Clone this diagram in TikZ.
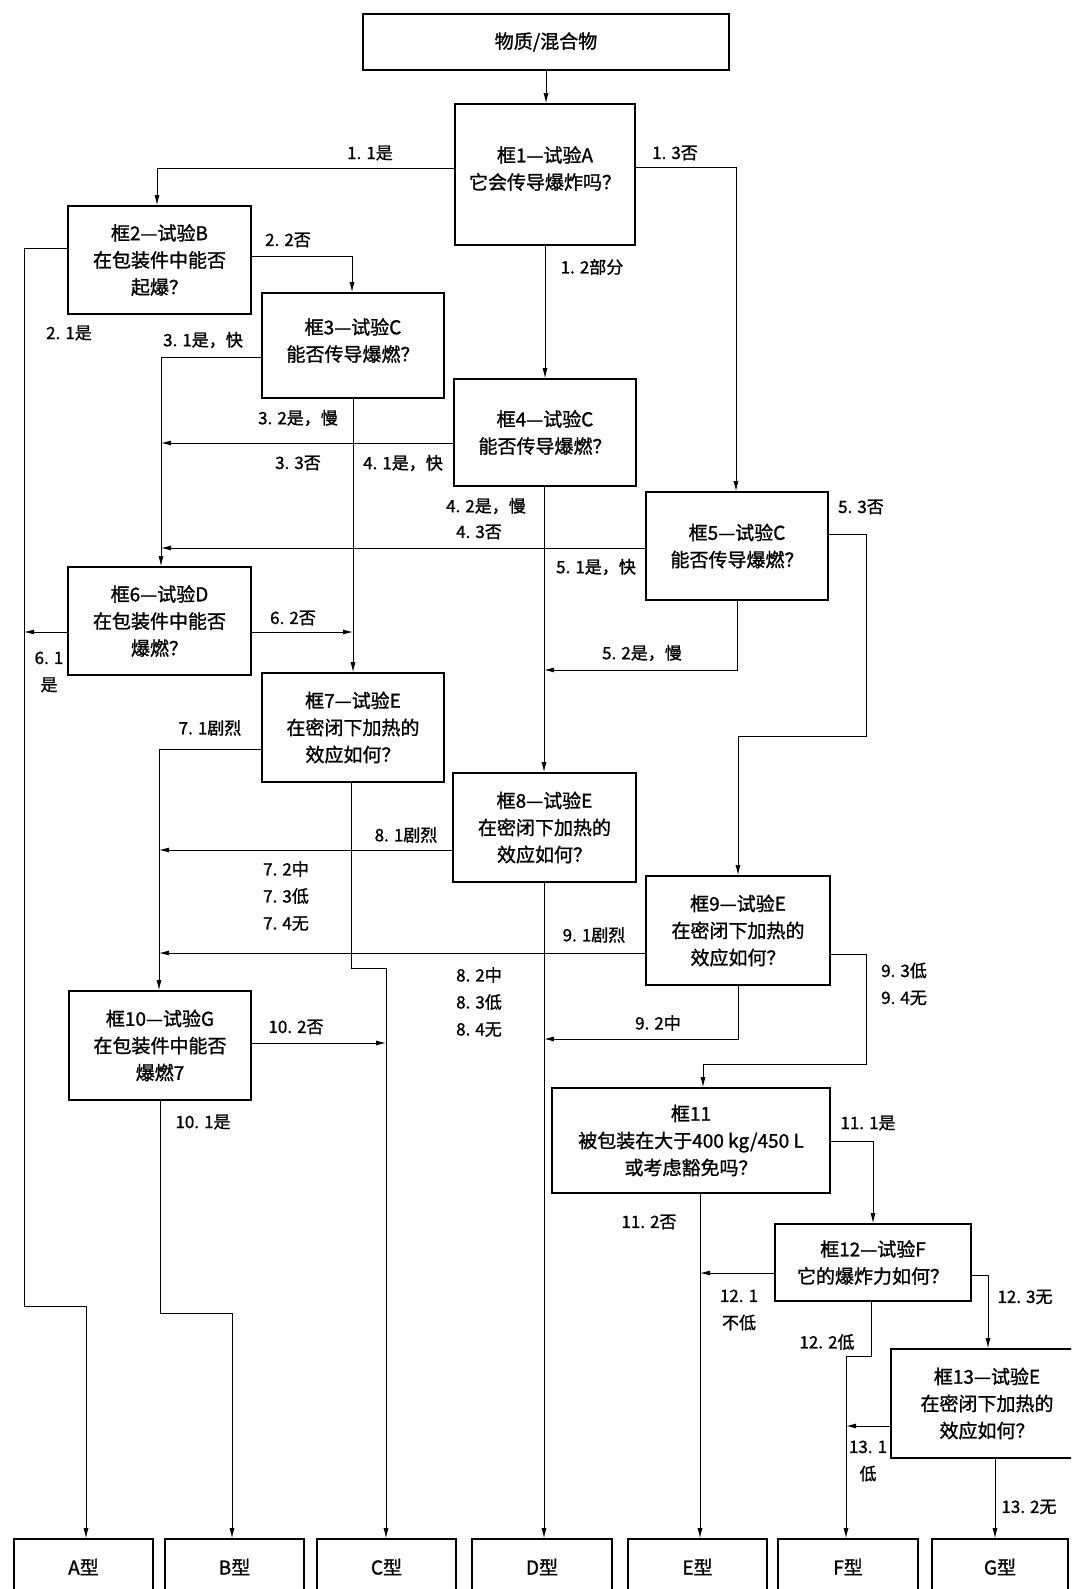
\documentclass[tikz,border=0pt]{standalone}
\usepackage{fontspec}
\setmainfont{Noto Sans CJK SC}[FakeBold=1.2]
\usetikzlibrary{arrows.meta}
\begin{document}
\begin{tikzpicture}[x=1pt,y=-1pt,
  box/.style={draw,line width=1.6pt,align=center,inner sep=0pt,font=\fontsize{19}{27}\selectfont},
  txt/.style={align=center,inner sep=0pt,font=\fontsize{19}{27}\selectfont},
  lab/.style={inner sep=0pt,align=left,font=\fontsize{17}{27}\selectfont},
  ln/.style={line width=0.9pt},
  arr/.style={ln,-{Latex[length=10pt,width=5pt]}}]
\useasboundingbox (0,0) rectangle (1071,1589);
\clip (0,0) rectangle (1071,1589);
\fill[white] (0,0) rectangle (1071,1589);

% ---------- boxes ----------
\node[box,minimum width=366pt,minimum height=56pt] (top) at (546,42) {物质/混合物};
\node[box,minimum width=180pt,minimum height=141pt] (b1) at (545,174.5) {};
\node[txt] (t1) at (545,168.5) {框1—试验A\\它会传导爆炸吗？};
\node[box,minimum width=183pt,minimum height=108pt] (b2) at (159.5,260) {框2—试验B\\在包装件中能否\\起爆？};
\node[box,minimum width=182pt,minimum height=105pt] (b3) at (353,345.5) {};
\node[txt] (t3) at (353,340.5) {框3—试验C\\能否传导爆燃？};
\node[box,minimum width=182pt,minimum height=107pt] (b4) at (545,432.5) {框4—试验C\\能否传导爆燃？};
\node[box,minimum width=182pt,minimum height=108pt] (b5) at (737,546) {框5—试验C\\能否传导爆燃？};
\node[box,minimum width=183pt,minimum height=108pt] (b6) at (159.5,621) {框6—试验D\\在包装件中能否\\爆燃？};
\node[box,minimum width=182pt,minimum height=109pt] (b7) at (353,727.5) {框7—试验E\\在密闭下加热的\\效应如何？};
\node[box,minimum width=183pt,minimum height=109pt] (b8) at (544.5,827.5) {框8—试验E\\在密闭下加热的\\效应如何？};
\node[box,minimum width=184pt,minimum height=109pt] (b9) at (738,930.5) {框9—试验E\\在密闭下加热的\\效应如何？};
\node[box,minimum width=182pt,minimum height=109pt] (b10) at (160,1045.5) {框10—试验G\\在包装件中能否\\爆燃7};
\node[box,minimum width=278pt,minimum height=105pt] (b11) at (691,1140.5) {框11\\被包装在大于400 kg/450 L\\或考虑豁免吗？};
\node[box,minimum width=196pt,minimum height=77pt] (b12) at (873,1262.5) {框12—试验F\\它的爆炸力如何？};
\node[box,minimum width=192pt,minimum height=109pt] (b13) at (987,1403.5) {框13—试验E\\在密闭下加热的\\效应如何？};

\node[box,minimum width=139pt,minimum height=56pt] (A) at (83.5,1567) {A型};
\node[box,minimum width=139pt,minimum height=56pt] (B) at (234.5,1567) {B型};
\node[box,minimum width=139pt,minimum height=56pt] (C) at (386.5,1567) {C型};
\node[box,minimum width=140pt,minimum height=56pt] (D) at (542,1567) {D型};
\node[box,minimum width=139pt,minimum height=56pt] (E) at (697.5,1567) {E型};
\node[box,minimum width=140pt,minimum height=56pt] (F) at (848,1567) {F型};
\node[box,minimum width=136pt,minimum height=56pt] (G) at (1000,1567) {G型};

% ---------- junction coordinates ----------
\coordinate (k11) at (157,168);
\coordinate (k13) at (736,167);
\coordinate (k22) at (352,256);
\coordinate (k21a) at (24,248);
\coordinate (k21b) at (24,1306);
\coordinate (k21c) at (86,1306);
\coordinate (k31) at (161,357);
\coordinate (j41) at (161,443);
\coordinate (j43) at (161,548);
\coordinate (j52) at (544,670);
\coordinate (k53a) at (866,534);
\coordinate (k53b) at (866,736);
\coordinate (k53c) at (738,736);
\coordinate (j61) at (24,632);
\coordinate (j62) at (353,632);
\coordinate (k71) at (159,749);
\coordinate (k72a) at (351,968);
\coordinate (k72b) at (386,968);
\coordinate (j81) at (159,850);
\coordinate (j91) at (159,953);
\coordinate (j92) at (544,1039);
\coordinate (k93a) at (866,954);
\coordinate (k93b) at (866,1064);
\coordinate (k93c) at (703,1064);
\coordinate (j102) at (386,1043);
\coordinate (k101a) at (160,1313);
\coordinate (k101b) at (232,1313);
\coordinate (k111) at (873,1141);
\coordinate (k112) at (700,1193);
\coordinate (j121) at (700,1273);
\coordinate (k122a) at (871,1356);
\coordinate (k122b) at (846,1356);
\coordinate (k123) at (988,1275);
\coordinate (j131) at (846,1426);
\coordinate (k132) at (995,1458);

% ---------- connectors ----------
\draw[arr] (top.south) -- (top.south |- b1.north);
\draw[arr] (b1.west |- k11) -- (k11) -- (k11 |- b2.north);
\draw[arr] (b1.east |- k13) -- (k13) -- (k13 |- b5.north);
\draw[arr] (b1.south) -- (b1.south |- b4.north);
\draw[arr] (b2.east |- k22) -- (k22) -- (k22 |- b3.north);
\draw[arr] (b2.west |- k21a) -- (k21a) -- (k21b) -- (k21c) -- (k21c |- A.north);
\draw[arr] (b3.west |- k31) -- (k31) -- (k31 |- b6.north);
\draw[arr] (b3.south) -- (b7.north);
\draw[arr] (b4.west |- j41) -- (j41);
\draw[arr] (b4.south -| j52) -- (j52 |- b8.north);
\draw[arr] (b5.west |- j43) -- (j43);
\draw[arr] (b5.south) -- (b5.south |- j52) -- (j52);
\draw[arr] (b5.east |- k53a) -- (k53a) -- (k53b) -- (k53c) -- (k53c |- b9.north);
\draw[arr] (b6.west |- j61) -- (j61);
\draw[arr] (b6.east |- j62) -- (j62);
\draw[arr] (b7.west |- k71) -- (k71) -- (k71 |- b10.north);
\draw[arr] (b7.south -| k72a) -- (k72a) -- (k72b) -- (k72b |- C.north);
\draw[arr] (b8.west |- j81) -- (j81);
\draw[arr] (b8.south -| j92) -- (j92 |- D.north);
\draw[arr] (b9.west |- j91) -- (j91);
\draw[arr] (b9.south) -- (b9.south |- j92) -- (j92);
\draw[arr] (b9.east |- k93a) -- (k93a) -- (k93b) -- (k93c) -- (k93c |- b11.north);
\draw[arr] (b10.east |- j102) -- (j102);
\draw[arr] (b10.south -| k101a) -- (k101a) -- (k101b) -- (k101b |- B.north);
\draw[arr] (b11.east |- k111) -- (k111) -- (k111 |- b12.north);
\draw[arr] (k112) -- (k112 |- E.north);
\draw[arr] (b12.west |- j121) -- (j121);
\draw[arr] (b12.south -| k122a) -- (k122a) -- (k122b) -- (k122b |- F.north);
\draw[arr] (b12.east |- k123) -- (k123) -- (k123 |- b13.north);
\draw[arr] (b13.west |- j131) -- (j131);
\draw[arr] (k132) -- (k132 |- G.north);

% ---------- labels ----------
\node[lab] (l11) at (370,153) {1. 1是};
\node[lab] (l13) at (675,153) {1. 3否};
\node[lab] (l12) at (592,267) {1. 2部分};
\node[lab] (l22) at (288,240) {2. 2否};
\node[lab] (l21) at (69,333) {2. 1是};
\node[lab] (l31) at (203,340) {3. 1是，快};
\node[lab] (l32) at (298,418) {3. 2是，慢};
\node[lab] (l33) at (298,463) {3. 3否};
\node[lab] (l41) at (403,463) {4. 1是，快};
\node[lab] (l42) at (486,506) {4. 2是，慢};
\node[lab] (l43) at (479,532) {4. 3否};
\node[lab] (l51) at (596,567) {5. 1是，快};
\node[lab] (l52) at (642,653) {5. 2是，慢};
\node[lab] (l53) at (861,507) {5. 3否};
\node[lab,align=center] (l61) at (49,672) {6. 1\\是};
\node[lab] (l62) at (293,618) {6. 2否};
\node[lab] (l71) at (210,728) {7. 1剧烈};
\node[lab] (l72) at (286,896) {7. 2中\\7. 3低\\7. 4无};
\node[lab] (l81) at (406,835) {8. 1剧烈};
\node[lab] (l82) at (479,1002) {8. 2中\\8. 3低\\8. 4无};
\node[lab] (l91) at (594,935) {9. 1剧烈};
\node[lab] (l92) at (658,1023) {9. 2中};
\node[lab] (l93) at (904,984) {9. 3低\\9. 4无};
\node[lab] (l102) at (296,1027) {10. 2否};
\node[lab] (l101) at (203,1122) {10. 1是};
\node[lab] (l111) at (868,1123) {11. 1是};
\node[lab] (l112) at (649,1222) {11. 2否};
\node[lab,align=center] (l121) at (739,1310) {12. 1\\不低};
\node[lab] (l122) at (827,1342) {12. 2低};
\node[lab] (l123) at (1025,1297) {12. 3无};
\node[lab,align=center] (l131) at (868,1461) {13. 1\\低};
\node[lab] (l132) at (1029,1507) {13. 2无};
\end{tikzpicture}
\end{document}
